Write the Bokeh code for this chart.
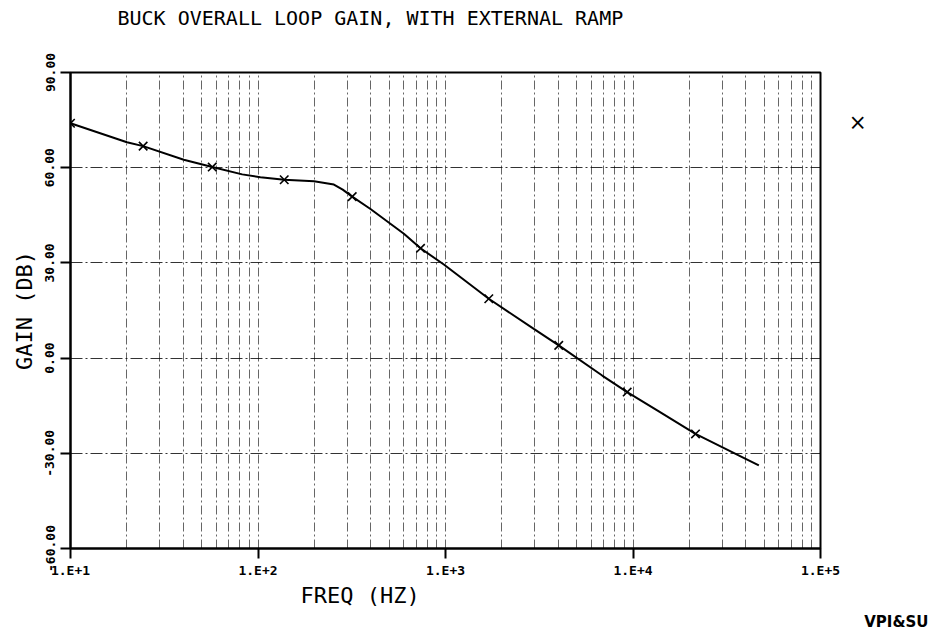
from bokeh.plotting import figure
from bokeh.models import FixedTicker, Title
from bokeh.embed import file_html
from bokeh.resources import INLINE

# ---- data ----
curve_freq = [10.0, 20.0, 24.4, 40.2, 57.0, 82.4, 103, 138, 199, 254, 283, 318, 398,
              600, 736, 980, 1702, 2958, 4018, 6850, 9310, 13460, 21540, 38200, 46900]
curve_gain = [74.0, 68.0, 66.8, 62.5, 60.2, 57.9, 57.0, 56.2, 55.7, 54.7, 53.1, 50.9, 47.0,
              39.2, 34.6, 29.5, 18.7, 9.2, 4.0, -5.5, -10.7, -16.5, -23.9, -31.2, -33.8]
marker_freq = [10.0, 24.4, 57.0, 138, 318, 736, 1702, 4018, 9310, 21540]
marker_gain = [74.0, 66.8, 60.2, 56.2, 50.9, 34.6, 18.7, 4.0, -10.7, -23.9]

x_ticks = [10, 100, 1000, 10000, 100000]
x_tick_labels = ["1.E+1", "1.E+2", "1.E+3", "1.E+4", "1.E+5"]
y_ticks = [-60, -30, 0, 30, 60, 90]
y_tick_labels = ["-60.00", "-30.00", "0.00", "30.00", "60.00", "90.00"]
y_grid = [-30, 0, 30, 60]

title_text = "BUCK OVERALL LOOP GAIN, WITH EXTERNAL RAMP"
x_label = "FREQ (HZ)"
y_label = "GAIN (DB)"
credit = "VPI&SU"
legend_symbol = "\u00d7"

MONO = "DejaVu Sans Mono"

grid_freqs = [k * 10 ** d for d in range(1, 5) for k in range(2, 11)]

p = figure(width=933, height=632, x_axis_type="log",
           x_range=(10, 100000), y_range=(-60, 90),
           output_backend="svg", toolbar_location=None,
           min_border_left=70, min_border_right=113,
           min_border_top=72, min_border_bottom=84)
p.background_fill_color = "white"
p.border_fill_color = "white"
p.outline_line_color = "black"
p.outline_line_width = 2

# title
p.title.text = title_text
p.title.text_font = MONO
p.title.text_font_style = "normal"
p.title.text_font_size = "20px"
p.title.text_color = "black"
p.title.align = "left"
p.title.offset = 47
p.title.standoff = 0

# empty spacer between title and frame
p.add_layout(Title(text=" ", text_font_size="1px", standoff=40), "above")

# grids
p.xgrid.ticker = FixedTicker(ticks=grid_freqs)
p.xgrid.grid_line_color = "black"
p.xgrid.grid_line_alpha = 0.6
p.xgrid.grid_line_dash = "9 3 2 3"
p.xgrid.grid_line_width = 1
p.ygrid.ticker = FixedTicker(ticks=y_grid)
p.ygrid.grid_line_color = "black"
p.ygrid.grid_line_alpha = 0.8
p.ygrid.grid_line_dash = "12 3 2 3"
p.ygrid.grid_line_width = 1.2

# axes
for ax in (p.xaxis[0], p.yaxis[0]):
    ax.axis_line_color = "black"
    ax.axis_line_width = 2
    ax.major_tick_line_color = "black"
    ax.major_tick_line_width = 2
    ax.major_tick_out = 10
    ax.major_tick_in = 0
    ax.minor_tick_out = 0
    ax.minor_tick_in = 0
    ax.major_label_text_font = MONO
    ax.major_label_text_font_style = "bold"
    ax.major_label_text_font_size = "13px"
    ax.major_label_text_color = "black"
    ax.axis_label_text_font = MONO
    ax.axis_label_text_font_style = "normal"
    ax.axis_label_text_color = "black"

p.xaxis.ticker = FixedTicker(ticks=x_ticks)
p.xaxis.major_label_overrides = {t: l for t, l in zip(x_ticks, x_tick_labels)}
p.xaxis.major_label_standoff = 4

p.yaxis.ticker = FixedTicker(ticks=y_ticks)
p.yaxis.major_label_overrides = {t: l for t, l in zip(y_ticks, y_tick_labels)}
p.yaxis.major_label_orientation = "vertical"
p.yaxis.major_label_standoff = 6
p.yaxis.axis_label = y_label
p.yaxis.axis_label_text_font_size = "22px"
p.yaxis.axis_label_standoff = 6

# x axis label (left of centre, as in the reference) and credit text
freq_title = Title(text=x_label, align="left", offset=230,
                   text_font=MONO, text_font_style="normal",
                   text_font_size="22px", text_color="black", standoff=1)
p.add_layout(freq_title, "below")
credit_title = Title(text=credit, align="right", offset=-108,
                     text_font="DejaVu Sans", text_font_style="bold",
                     text_font_size="15px", text_color="black", standoff=4)
p.add_layout(credit_title, "below")

# series symbol key at the right of the frame
key_title = Title(text=legend_symbol, align="left", offset=41,
                  text_font="DejaVu Sans", text_font_style="normal",
                  text_font_size="22px", text_color="black", standoff=50)
p.add_layout(key_title, "right")

# curve and markers
p.line(curve_freq, curve_gain, line_color="black", line_width=2)
p.scatter(marker_freq, marker_gain, marker="x", size=12,
          line_color="black", line_width=1.6)

open("out.html", "w").write(file_html(p, INLINE))
